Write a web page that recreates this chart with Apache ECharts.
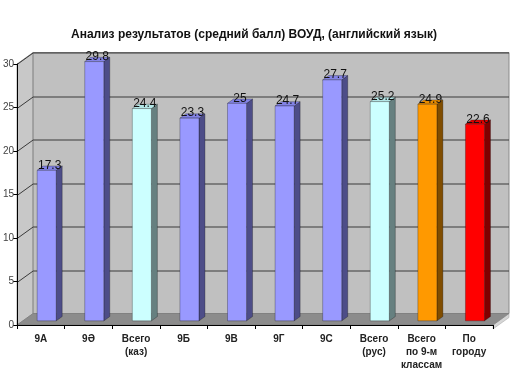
<!DOCTYPE html>
<html><head><meta charset="utf-8">
<script src="https://cdn.jsdelivr.net/npm/echarts@6/dist/echarts.min.js"></script>
<style>html,body{margin:0;padding:0;background:#fff}#c{width:520px;height:390px}</style>
</head><body><div id="c"></div>
<script>
const titleText = 'Анализ результатов (средний балл) ВОУД, (английский язык)';
const categories = ['9А', '9Ә', 'Всего\n(каз)', '9Б', '9В', '9Г', '9С', 'Всего\n(рус)', 'Всего\nпо 9-м\nклассам', 'По\nгороду'];
const values = [17.3, 29.8, 24.4, 23.3, 25, 24.7, 27.7, 25.2, 24.9, 22.6];
const groups = ['class', 'class', 'total', 'class', 'class', 'class', 'class', 'total', 'all', 'city'];
const yMin = 0, yMax = 30, yStep = 5;

const palette = {
  class: {front: '#9999FF', side: '#4D4D88', top: '#8383E6'},
  total: {front: '#CCFFFF', side: '#668080', top: '#B3E6E6'},
  all:   {front: '#FF9900', side: '#804D00', top: '#E68A00'},
  city:  {front: '#FF0000', side: '#800000', top: '#E00000'}
};
const DX = 16, DY = -11.5;       // depth of the 3D box
const F0 = 0.36, FD = 0.375;     // bar depth position and thickness
const FONT = '"Liberation Sans", Arial, sans-serif';

function renderWalls(params, api) {
  const cs = params.coordSys;
  const gx = cs.x, gy = cs.y, gr = cs.x + cs.width, gb = cs.y + cs.height;
  const children = [];
  children.push({type: 'polygon', shape: {points: [[gx, gy], [gx + DX, gy + DY], [gx + DX, gb + DY], [gx, gb]]},
    style: {fill: '#C8C8C8', stroke: '#909090', lineWidth: 1}});
  children.push({type: 'rect', shape: {x: gx + DX, y: gy + DY, width: cs.width, height: cs.height},
    style: {fill: '#C0C0C0', stroke: '#8A8A8A', lineWidth: 1}});
  children.push({type: 'polygon', shape: {points: [[gr, gb], [gr + DX, gb + DY], [gr + DX, gb + DY + 4], [gr, gb + 4]]},
    style: {fill: '#D6D6D6', stroke: '#A0A0A0', lineWidth: 0.5}});
  children.push({type: 'polygon', shape: {points: [[gx, gb], [gr, gb], [gr + DX, gb + DY], [gx + DX, gb + DY]]},
    style: {fill: '#8C8C8C', stroke: '#777', lineWidth: 0.5}});
  for (let v = yMin + yStep; v <= yMax; v += yStep) {
    const y = Math.round(api.coord([0, v])[1]) + 0.5;
    children.push({type: 'polyline', shape: {points: [[gx, y], [gx + DX, y + DY], [gr + DX, y + DY]]},
      style: {stroke: '#3A3A3A', lineWidth: 1, fill: null}});
  }
  return {type: 'group', children: children};
}

function renderBar(params, api) {
  const i = api.value(0), v = api.value(1);
  const base = api.coord([i, 0]);
  const top = api.coord([i, v]);
  const band = api.size([1, 0])[0];
  const w = band * 0.4;
  const ox = DX * F0, oy = DY * F0, sx = DX * FD, sy = DY * FD;
  const x0 = base[0] - w / 2 + ox, x1 = x0 + w;
  const yb = base[1] + oy, yt = top[1] + oy;
  const c = palette[groups[i]];
  const st = {stroke: 'rgba(0,0,0,0.45)', lineWidth: 0.6};
  return {type: 'group', children: [
    {type: 'polygon', shape: {points: [[x1, yb], [x1, yt], [x1 + sx, yt + sy], [x1 + sx, yb + sy]]},
      style: Object.assign({fill: c.side}, st)},
    {type: 'polygon', shape: {points: [[x0, yt], [x1, yt], [x1 + sx, yt + sy], [x0 + sx, yt + sy]]},
      style: Object.assign({fill: c.top}, st)},
    {type: 'rect', shape: {x: x0, y: yt, width: w, height: yb - yt},
      style: Object.assign({fill: c.front}, st)},
    {type: 'text', z2: 10, style: {x: (x0 + x1) / 2 + sx / 2, y: yt - 5, text: String(v),
      align: 'center', verticalAlign: 'middle', fill: '#111', font: '12px ' + FONT}}
  ]};
}

const chart = echarts.init(document.getElementById('c'), null, {renderer: 'canvas'});
chart.setOption({
  backgroundColor: '#fff',
  animation: false,
  title: {text: titleText, left: 66, top: 24,
    textStyle: {fontSize: 12, fontWeight: 'bold', color: '#111', fontFamily: FONT}},
  grid: {left: 17, right: 27, top: 64, bottom: 65, containLabel: false},
  xAxis: {type: 'category', data: categories, z: 10,
    axisLine: {lineStyle: {color: '#000', width: 1}},
    axisTick: {show: true, length: 4, interval: 0, lineStyle: {color: '#000'}},
    axisLabel: {interval: 0, margin: 8, fontSize: 10, fontWeight: 'bold', lineHeight: 13,
      color: '#222', fontFamily: FONT},
    splitLine: {show: false}},
  yAxis: {type: 'value', min: yMin, max: yMax, interval: yStep, z: 10,
    axisLine: {show: true, lineStyle: {color: '#000', width: 1}},
    axisTick: {show: true, length: 4, lineStyle: {color: '#000'}},
    axisLabel: {margin: 3, fontSize: 10, color: '#444', fontFamily: FONT},
    splitLine: {show: false}},
  series: [
    {type: 'custom', renderItem: renderWalls, data: [[0, 0]], silent: true, z: 1, clip: false},
    {type: 'custom', renderItem: renderBar, data: values.map((v, i) => [i, v]), z: 3, clip: false}
  ]
});
</script></body></html>
